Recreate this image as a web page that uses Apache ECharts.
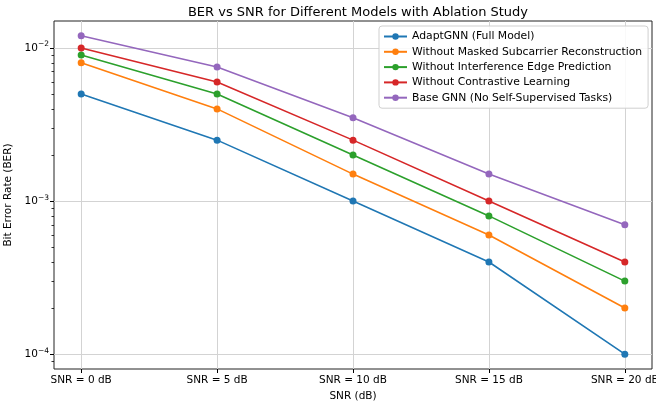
<!DOCTYPE html>
<html>
<head>
<meta charset="utf-8">
<script src="https://cdn.jsdelivr.net/npm/echarts@6/dist/echarts.min.js"></script>
<style>
  html, body { margin: 0; padding: 0; background: #fff; }
  #chart { width: 656px; height: 408px; }
</style>
</head>
<body>
<div id="chart"></div>
<script>
// categories on x, in index order
var snrLabels = ['SNR = 0 dB', 'SNR = 5 dB', 'SNR = 10 dB', 'SNR = 15 dB', 'SNR = 20 dB'];
var xIdx = [0, 1, 2, 3, 4];

var seriesNames = [
  'AdaptGNN (Full Model)',
  'Without Masked Subcarrier Reconstruction',
  'Without Interference Edge Prediction',
  'Without Contrastive Learning',
  'Base GNN (No Self-Supervised Tasks)'
];
var berFull        = [5e-3, 2.5e-3, 1e-3,   4e-4,   1e-4];
var berNoMasked    = [8e-3, 4e-3,   1.5e-3, 6e-4,   2e-4];
var berNoInterf    = [9e-3, 5e-3,   2e-3,   8e-4,   3e-4];
var berNoContrast  = [1e-2, 6e-3,   2.5e-3, 1e-3,   4e-4];
var berBase        = [1.2e-2, 7.5e-3, 3.5e-3, 1.5e-3, 7e-4];

var yMajor = [1e-4, 1e-3, 1e-2];
var yMinor = [9e-5, 2e-4, 3e-4, 4e-4, 5e-4, 6e-4, 7e-4, 8e-4, 9e-4,
              2e-3, 3e-3, 4e-3, 5e-3, 6e-3, 7e-3, 8e-3, 9e-3];

var colors = ['#1f77b4', '#ff7f0e', '#2ca02c', '#d62728', '#9467bd'];
var allData = [berFull, berNoMasked, berNoInterf, berNoContrast, berBase];

var font = 'DejaVu Sans';
var myChart = echarts.init(document.getElementById('chart'));

function pairs(arr) {
  return arr.map(function (v, i) { return [xIdx[i], v]; });
}

var series = allData.map(function (arr, k) {
  return {
    name: seriesNames[k],
    type: 'line',
    data: pairs(arr),
    yAxisIndex: 0,
    symbol: 'circle',
    symbolSize: 7,
    color: colors[k],
    lineStyle: { width: 1.6 },
    animation: false
  };
});

myChart.setOption({
  animation: false,
  title: {
    text: 'BER vs SNR for Different Models with Ablation Study',
    left: 353, top: 1, textAlign: 'center',
    textStyle: { fontFamily: font, fontSize: 13, fontWeight: 'normal', color: '#000' }
  },
  grid: {
    left: 54, right: 4, top: 21, bottom: 39,
    outerBoundsMode: 'none', containLabel: false,
    show: true, borderColor: '#222', borderWidth: 1, backgroundColor: 'transparent'
  },
  legend: {
    data: seriesNames,
    orient: 'vertical',
    left: 379, top: 26,
    itemWidth: 23, itemHeight: 8, itemGap: 4.3,
    padding: [5, 6, 5, 4],
    borderColor: '#cfcfcf', borderWidth: 1, borderRadius: 3,
    backgroundColor: 'rgba(255,255,255,0.85)',
    textStyle: { fontFamily: font, fontSize: 10.8, color: '#000' }
  },
  xAxis: {
    type: 'value',
    min: -0.2, max: 4.2,
    name: 'SNR (dB)', nameLocation: 'middle', nameGap: 22,
    nameTextStyle: { fontFamily: font, fontSize: 10.5, color: '#000' },
    axisLine: { show: false, onZero: false },
    axisTick: { show: true, length: 4, customValues: xIdx, lineStyle: { color: '#000' } },
    axisLabel: {
      customValues: xIdx, margin: 6,
      fontFamily: font, fontSize: 10.5, color: '#000',
      formatter: function (v) { return snrLabels[Math.round(v)]; }
    },
    splitLine: { show: true, lineStyle: { color: '#d3d3d3', width: 1 } }
  },
  yAxis: [{
    type: 'log', logBase: 10,
    min: 8e-5, max: 0.015,
    name: 'Bit Error Rate (BER)', nameLocation: 'middle', nameGap: 35,
    nameTextStyle: { fontFamily: font, fontSize: 10.5, color: '#000' },
    axisLine: { show: false, onZero: false },
    axisTick: { show: true, length: 4, customValues: yMajor, lineStyle: { color: '#000' } },
    axisLabel: {
      customValues: yMajor, margin: 5,
      formatter: function (v) {
        var e = Math.round(Math.log10(v));
        return '{b|10}{s|\u2212' + Math.abs(e) + '}';
      },
      rich: {
        b: { fontFamily: font, fontSize: 10.5, color: '#000' },
        s: { fontFamily: font, fontSize: 7.5, color: '#000', padding: [0, 0, 7, 0] }
      }
    },
    splitLine: { show: true, lineStyle: { color: '#d3d3d3', width: 1 } }
  }, {
    type: 'log', logBase: 10,
    min: 8e-5, max: 0.015,
    position: 'left',
    axisLine: { show: false, onZero: false },
    axisTick: { show: true, length: 2.5, customValues: yMinor, lineStyle: { color: '#000', width: 0.8 } },
    axisLabel: { show: false },
    splitLine: { show: false }
  }],
  series: series
});
</script>
</body>
</html>
